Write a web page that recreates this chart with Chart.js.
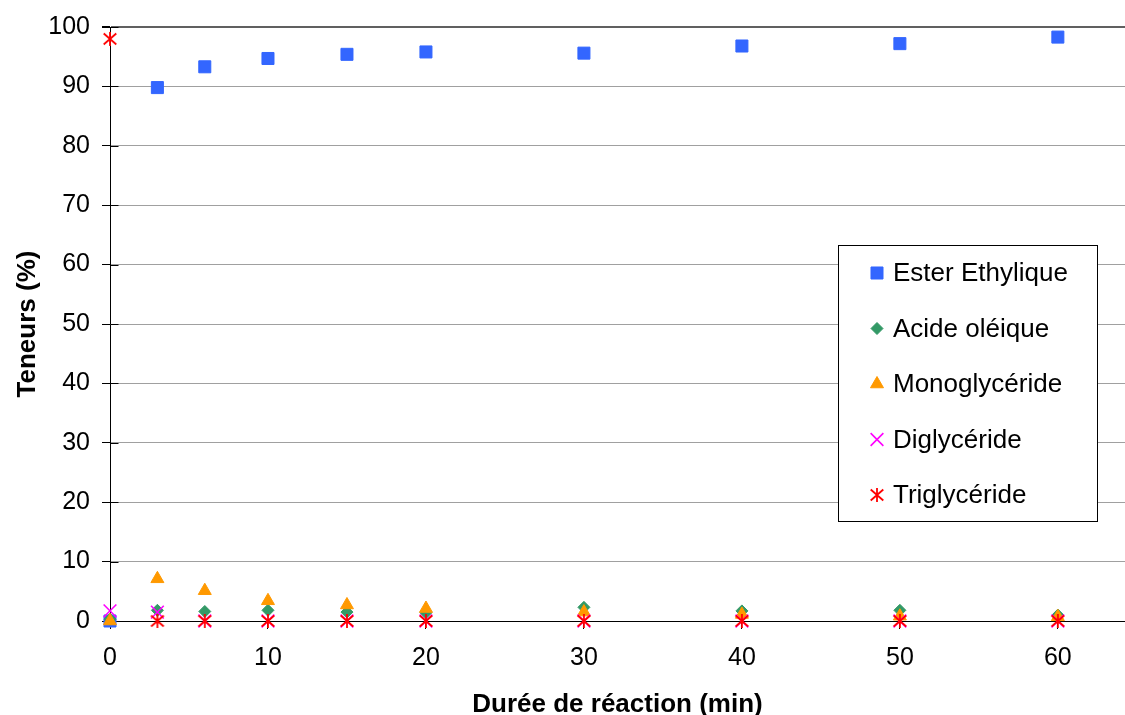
<!DOCTYPE html>
<html>
<head>
<meta charset="utf-8">
<script src="https://cdn.jsdelivr.net/npm/chart.js"></script>
<style>
  html, body { margin: 0; padding: 0; background: #fff; }
  #wrap { width: 1125px; height: 715px; position: relative; }
</style>
</head>
<body>
<div id="wrap"><canvas id="c" width="1125" height="715"></canvas></div>
<script>
// ---- data ----
const durations = [0, 3, 6, 10, 15, 20, 30, 40, 50, 60];
const esterEthylique = [0, 89.8, 93.3, 94.7, 95.4, 95.8, 95.6, 96.8, 97.2, 98.3];
const acideOleique  = [0.3, 1.8, 1.6, 1.8, 1.5, 1.4, 2.3, 1.7, 1.8, 1.0];
const monoglyceride = [0, 7.1, 5.1, 3.4, 2.7, 2.1, 1.5, 1.1, 0.8, 0.7];
const diglyceride   = [1.7, 1.5, 0, 0, 0, 0, 0, 0, 0, 0];
const triglyceride  = [98, 0, 0, 0, 0, 0, 0, 0, 0, 0];
const seriesNames = ['Ester Ethylique', 'Acide oléique', 'Monoglycéride', 'Diglycéride', 'Triglycéride'];
const xTickValues = [0, 10, 20, 30, 40, 50, 60];
const yTickValues = [0, 10, 20, 30, 40, 50, 60, 70, 80, 90, 100];
const xTitle = 'Durée de réaction (min)';
const yTitle = 'Teneurs (%)';

const FONT = "'Liberation Sans', Arial, sans-serif";

// asterisk marker (X plus vertical bar)
function makeAsterisk() {
  const c = document.createElement('canvas');
  c.width = 18; c.height = 18;
  const g = c.getContext('2d');
  g.strokeStyle = '#FF0000';
  g.lineWidth = 1.8;
  g.beginPath();
  g.moveTo(9 - 6.3, 9 - 5.5); g.lineTo(9 + 6.3, 9 + 5.5);
  g.moveTo(9 - 6.3, 9 + 5.5); g.lineTo(9 + 6.3, 9 - 5.5);
  g.moveTo(9, 2); g.lineTo(9, 16);
  g.stroke();
  return c;
}
const asterisk = makeAsterisk();

function pts(vals) { return durations.map((x, i) => ({ x: x, y: vals[i] })); }

const styles = [
  { color: '#3366FF', pointStyle: 'rect', radius: 8.5, border: 1 },
  { color: '#339966', pointStyle: 'rectRot', radius: 6, border: 1 },
  { color: '#FF9900', pointStyle: 'triangle', radius: 7.5, border: 1 },
  { color: '#FF00FF', pointStyle: 'crossRot', radius: 9, border: 1.6 },
  { color: '#FF0000', pointStyle: asterisk, radius: 9, border: 1 }
];
const allSeries = [esterEthylique, acideOleique, monoglyceride, diglyceride, triglyceride];

const datasets = allSeries.map((vals, i) => ({
  label: seriesNames[i],
  data: pts(vals),
  showLine: false,
  clip: false,
  backgroundColor: styles[i].color,
  borderColor: styles[i].color,
  pointStyle: styles[i].pointStyle,
  pointRadius: styles[i].radius,
  pointHoverRadius: styles[i].radius,
  pointBorderWidth: styles[i].border,
  order: allSeries.length - i
}));

const legendPlugin = {
  id: 'boxLegend',
  afterDraw(chart) {
    const ctx = chart.ctx;
    const bx = 838.5, by = 245.5, bw = 259, bh = 276;
    ctx.save();
    ctx.fillStyle = '#fff';
    ctx.fillRect(bx, by, bw, bh);
    ctx.strokeStyle = '#000';
    ctx.lineWidth = 1;
    ctx.strokeRect(bx, by, bw, bh);
    ctx.font = '26px ' + FONT;
    ctx.textBaseline = 'middle';
    ctx.textAlign = 'left';
    seriesNames.forEach((name, i) => {
      const y = 273 + i * 55.5;
      const s = styles[i];
      ctx.fillStyle = s.color;
      ctx.strokeStyle = s.color;
      ctx.lineWidth = s.border;
      Chart.helpers.drawPoint(ctx, { pointStyle: s.pointStyle, radius: s.radius, rotation: 0, borderWidth: s.border }, 877, y);
      ctx.fillStyle = '#000';
      ctx.fillText(name, 893, y + 1);
    });
    ctx.restore();
  }
};

// inner half of "cross" tick marks on the y axis
const crossTicks = {
  id: 'crossTicks',
  beforeDatasetsDraw(chart) {
    const ys = chart.scales.y, xs = chart.scales.x;
    const ctx = chart.ctx;
    ctx.save();
    ctx.strokeStyle = '#000';
    ctx.lineWidth = 1;
    ctx.beginPath();
    const x0 = Math.round(xs.getPixelForValue(0)) + 0.5;
    yTickValues.forEach(v => {
      const y = Math.round(ys.getPixelForValue(v)) + 0.5;
      ctx.moveTo(x0, y); ctx.lineTo(x0 + 8, y);
    });
    ctx.stroke();
    ctx.restore();
  }
};

new Chart(document.getElementById('c'), {
  type: 'scatter',
  data: { datasets },
  plugins: [crossTicks, legendPlugin],
  options: {
    responsive: false,
    animation: false,
    events: [],
    layout: { autoPadding: false, padding: { top: 25, right: 0, left: 0, bottom: 0 } },
    plugins: { legend: { display: false }, tooltip: { enabled: false } },
    scales: {
      x: {
        type: 'linear',
        min: 0,
        max: 64.25,
        afterBuildTicks(scale) { scale.ticks = xTickValues.map(v => ({ value: v })); },
        afterFit(scale) { scale.height = 94; },
        grid: { display: true, drawOnChartArea: false, drawTicks: true, tickLength: 8, tickColor: '#000' },
        border: { display: true, color: '#000', width: 1 },
        ticks: { color: '#000', font: { family: FONT, size: 25 }, padding: 14, maxRotation: 0, autoSkip: false },
        title: { display: true, text: xTitle, color: '#000', font: { family: FONT, size: 26, weight: 'bold', lineHeight: 0.8 }, padding: { top: 0, bottom: 0 } }
      },
      y: {
        type: 'linear',
        min: 0,
        max: 100,
        afterBuildTicks(scale) { scale.ticks = yTickValues.map(v => ({ value: v })); },
        afterFit(scale) { scale.width = 110; },
        grid: {
          color: ctx => ctx.tick && ctx.tick.value === 100 ? '#606060' : (ctx.tick && ctx.tick.value === 0 ? '#000' : '#A0A0A0'),
          lineWidth: ctx => ctx.tick && ctx.tick.value === 100 ? 2 : 1,
          tickLength: 8,
          tickColor: '#000',
          drawTicks: true
        },
        border: { display: true, color: '#000', width: 1 },
        ticks: { color: '#000', font: { family: FONT, size: 25 }, padding: 12 },
        title: { display: true, text: yTitle, color: '#000', font: { family: FONT, size: 26, weight: 'bold', lineHeight: 1 }, padding: { top: 15, bottom: 0 } }
      }
    }
  }
});
</script>
</body>
</html>
